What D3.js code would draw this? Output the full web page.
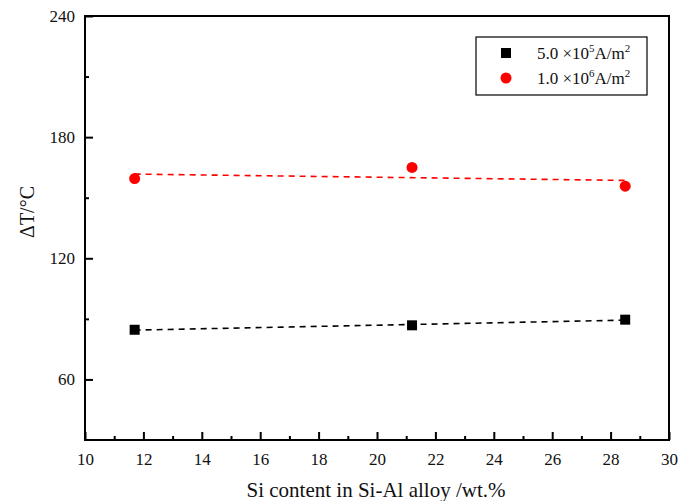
<!DOCTYPE html>
<html><head><meta charset="utf-8">
<script src="https://cdn.jsdelivr.net/npm/d3@7"></script>
<style>body{margin:0;background:#fff}svg{display:block}svg text{font-family:"Liberation Serif","Times New Roman",Times,serif !important}</style>
</head><body><svg id="c" width="693" height="501" font-family="Liberation Serif"></svg>
<script>
const siContent = [11.7, 21.2, 28.5];
const dT_5e5 = [84.6, 86.8, 89.6];
const dT_1e6 = [159.5, 165.0, 155.7];
const xTicks = [10, 12, 14, 16, 18, 20, 22, 24, 26, 28, 30];
const xMinor = [11, 13, 15, 17, 19, 21, 23, 25, 27, 29];
const yTicks = [60, 120, 180, 240];
const yMinor = [90, 150, 210];

const FONT = "Liberation Serif";
const svg = d3.select("#c");
const L = 85, R = 669, T = 16, B = 440;
const x = d3.scaleLinear().domain([10, 30]).range([L, R]);
const y = d3.scaleLinear().domain([30, 240]).range([B, T]);

svg.append("rect").attr("x", L).attr("y", T).attr("width", R - L).attr("height", B - T)
  .attr("fill", "none").attr("stroke", "#000").attr("stroke-width", 2);

const xAx = svg.append("g").attr("transform", `translate(0,${B})`)
  .call(d3.axisBottom(x).tickValues(xTicks).tickSizeInner(-8).tickSizeOuter(0).tickPadding(16).tickFormat(d3.format("d")));
const xMi = svg.append("g").attr("transform", `translate(0,${B})`)
  .call(d3.axisBottom(x).tickValues(xMinor).tickSizeInner(-4).tickSizeOuter(0).tickFormat(""));
const yAx = svg.append("g").attr("transform", `translate(${L},0)`)
  .call(d3.axisLeft(y).tickValues(yTicks).tickSizeInner(-8).tickSizeOuter(0).tickPadding(16).tickFormat(d3.format("d")));
const yMi = svg.append("g").attr("transform", `translate(${L},0)`)
  .call(d3.axisLeft(y).tickValues(yMinor).tickSizeInner(-4).tickSizeOuter(0).tickFormat(""));
[xAx, xMi, yAx, yMi].forEach(g => {
  g.attr("font-family", FONT).attr("font-size", 17);
  g.select(".domain").remove();
  g.selectAll("line").attr("stroke", "#000").attr("stroke-width", 2);
  g.selectAll("text").attr("font-size", 17).attr("font-family", FONT).attr("fill", "#111");
});
xAx.selectAll("text").attr("dy", "0.71em").attr("y", 13);
yAx.selectAll("text").attr("x", -10);

function fit(xs, ys) {
  const mx = d3.mean(xs), my = d3.mean(ys);
  let sxy = 0, sxx = 0;
  xs.forEach((v, i) => { sxy += (v - mx) * (ys[i] - my); sxx += (v - mx) ** 2; });
  const b = sxy / sxx, a = my - b * mx;
  const x0 = d3.min(xs), x1 = d3.max(xs);
  return [[x0, a + b * x0], [x1, a + b * x1]];
}
const line = d3.line().x(d => x(d[0])).y(d => y(d[1]));
svg.append("path").attr("d", line(fit(siContent, dT_5e5))).attr("fill", "none")
  .attr("stroke", "#000").attr("stroke-width", 1.6).attr("stroke-dasharray", "6,5");
svg.append("path").attr("d", line(fit(siContent, dT_1e6))).attr("fill", "none")
  .attr("stroke", "#f00").attr("stroke-width", 1.6).attr("stroke-dasharray", "6,5");

svg.selectAll(".sq").data(siContent.map((v, i) => [v, dT_5e5[i]])).join("rect")
  .attr("x", d => x(d[0]) - 5).attr("y", d => y(d[1]) - 5).attr("width", 10).attr("height", 10).attr("fill", "#000");
svg.selectAll(".ci").data(siContent.map((v, i) => [v, dT_1e6[i]])).join("circle")
  .attr("cx", d => x(d[0])).attr("cy", d => y(d[1])).attr("r", 5.5).attr("fill", "#f00");

svg.append("rect").attr("x", 476).attr("y", 37).attr("width", 171).attr("height", 58)
  .attr("fill", "#fff").attr("stroke", "#000").attr("stroke-width", 1.2);
svg.append("rect").attr("x", 501).attr("y", 48).attr("width", 10).attr("height", 10).attr("fill", "#000");
svg.append("circle").attr("cx", 506).attr("cy", 78).attr("r", 5.5).attr("fill", "#f00");
function legText(yy, mant, exp) {
  const t = svg.append("text").attr("x", 537).attr("y", yy).attr("font-size", 17)
    .attr("font-family", FONT).attr("fill", "#111");
  t.append("tspan").text(mant + " \u00d710");
  t.append("tspan").attr("dy", -7).attr("font-size", 11).text(exp);
  t.append("tspan").attr("dy", 7).text("A/m");
  t.append("tspan").attr("dy", -7).attr("font-size", 11).text("2");
}
legText(59, "5.0", "5");
legText(84, "1.0", "6");

svg.append("text").attr("x", 376).attr("y", 497).attr("text-anchor", "middle")
  .attr("font-size", 21).attr("font-family", FONT).attr("fill", "#111").text("Si content in Si-Al alloy /wt.%");
svg.append("text").attr("transform", "translate(34,212) rotate(-90)").attr("text-anchor", "middle")
  .attr("font-size", 20).attr("font-family", FONT).attr("fill", "#111").text("\u0394T/\u00b0C");
</script></body></html>
